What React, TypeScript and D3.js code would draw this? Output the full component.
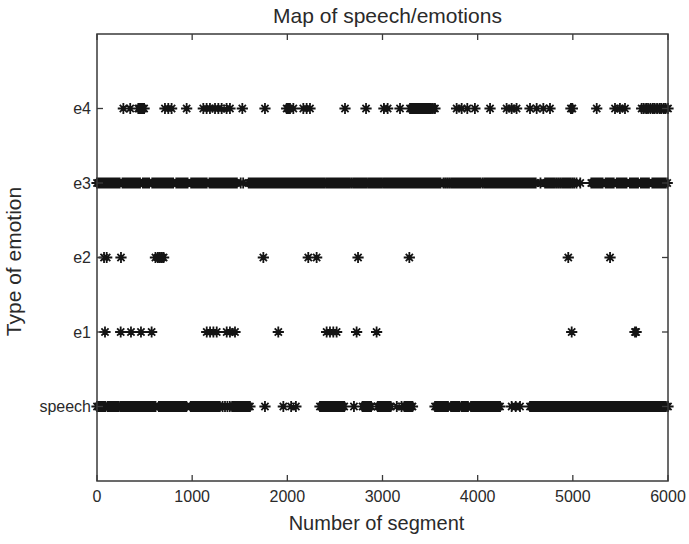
import React from "react";
import * as d3 from "d3";

const categories = ["speech", "e1", "e2", "e3", "e4"];
const xTicks = [0, 1000, 2000, 3000, 4000, 5000, 6000];

const speechSeg = [
  0, 17, 34, 51, 68, 85, 110, 127, 144, 161, 178, 195, 212, 224,
  245, 262, 279, 296, 313, 330, 347, 364, 381, 398, 415, 432, 449, 466, 483,
  500, 517, 534, 551, 568, 585, 602, 615,
  650, 667, 684, 701, 718, 735, 752, 769, 786, 803, 820, 837, 854, 871, 888,
  905, 922, 939,
  985, 1002, 1019, 1036, 1053, 1070, 1087, 1104, 1121, 1138, 1155, 1172,
  1189, 1206, 1223, 1240, 1257, 1274, 1291,
  1320, 1345, 1370, 1395,
  1420, 1437, 1454, 1471, 1488, 1505, 1522, 1539, 1556, 1573, 1590, 1607,
  1765, 1958, 2040, 2090,
  2343, 2360, 2377, 2394, 2411, 2428, 2445, 2462, 2479, 2496, 2513, 2530,
  2547, 2564, 2581, 2598,
  2700, 2790, 2808, 2826, 2844, 2862, 2880,
  2950, 2967, 2984, 3001, 3018, 3035, 3052, 3069, 3086,
  3150, 3200, 3230, 3247, 3264, 3281, 3298, 3315,
  3552, 3569, 3586, 3603, 3620, 3637, 3654, 3671, 3688, 3720, 3737, 3754,
  3771, 3788, 3805, 3830, 3847, 3864, 3881, 3898, 3930, 3947, 3964, 3981,
  3998, 4015, 4032, 4049, 4066, 4083, 4100, 4117, 4134, 4151, 4168, 4185,
  4202, 4219, 4235,
  4357, 4400, 4445,
  4550, 4567, 4584, 4601, 4618, 4635, 4652, 4669, 4686, 4703, 4720, 4737,
  4754, 4771, 4788, 4805, 4822, 4839, 4856, 4873, 4890, 4907, 4924, 4941,
  4958, 4975, 4992, 5009, 5026, 5043, 5060, 5077, 5094, 5111, 5128, 5145,
  5162, 5179, 5196, 5213, 5230, 5247, 5264, 5281, 5298, 5315, 5332, 5349,
  5366, 5383, 5400, 5417, 5434, 5451, 5468, 5485, 5502, 5519, 5536, 5553,
  5570, 5587, 5604, 5621, 5638, 5655, 5672, 5689, 5706, 5723, 5740, 5757,
  5774, 5791, 5808, 5825, 5842, 5859, 5876, 5893, 5910, 5927, 5944, 5961,
  5978, 6000,
];

const e1Seg = [
  84, 249, 357, 462, 574, 1153, 1188, 1223, 1258, 1363, 1397, 1450, 1905,
  2413, 2448, 2483, 2518, 2728, 2938, 4988, 5653, 5665,
];

const e2Seg = [
  74, 102, 252, 614, 640, 660, 680, 700, 1748, 2220, 2308, 2743, 3282,
  4952, 5391,
];

const e3Seg = [
  0, 15, 33, 50, 68, 84, 101, 119, 136, 152, 170, 187, 204, 221, 238,
  268, 285, 302, 318, 336, 353, 370, 387, 404, 421, 438, 452,
  482, 499, 516, 533, 548,
  580, 597, 614, 631, 648, 665, 682, 699, 716, 733, 750, 767, 784, 800,
  833, 850, 867, 884, 901, 918, 935, 952,
  989, 1006, 1023, 1040, 1057, 1074, 1091, 1108, 1125, 1142, 1153,
  1182, 1199, 1216, 1233, 1250, 1267, 1284, 1301, 1318, 1335, 1352, 1369,
  1386, 1403, 1420, 1437, 1454, 1470,
  1510, 1536,
  1594, 1611, 1628, 1645, 1662, 1679, 1696, 1713, 1730, 1747, 1764, 1781,
  1798, 1815, 1832, 1849, 1866, 1883, 1900, 1917, 1934, 1951, 1968, 1985,
  2002, 2019, 2036, 2053, 2070, 2087, 2104, 2121, 2138, 2155, 2172, 2189,
  2206, 2223, 2240, 2257, 2274, 2291, 2308, 2325, 2342, 2359, 2376, 2392,
  2412,
  2431, 2448, 2465, 2482, 2499, 2516, 2533, 2550, 2567, 2584, 2601, 2618,
  2635, 2652, 2672, 2692, 2709, 2726, 2743, 2760, 2777, 2794, 2811, 2828,
  2848, 2865, 2882, 2899, 2916, 2933, 2950, 2967, 2980, 2995,
  3015, 3032, 3049, 3066, 3083, 3100, 3117, 3134, 3151, 3168, 3185, 3202,
  3219, 3236, 3253, 3270, 3287, 3304, 3321, 3338, 3355, 3372, 3389, 3406,
  3423, 3440, 3457, 3474, 3491, 3508, 3525, 3542, 3559, 3576, 3593, 3610,
  3640, 3660, 3680, 3700,
  3720, 3737, 3754, 3771, 3788, 3805, 3822, 3839, 3856, 3873, 3890, 3907,
  3924, 3941, 3958, 3975, 3992, 4009, 4027,
  4050,
  4070, 4087, 4104, 4121, 4138, 4155, 4172, 4189, 4206, 4223, 4240, 4257,
  4274, 4291, 4308, 4325, 4342, 4359, 4376, 4393, 4410, 4427, 4444, 4461,
  4478, 4495, 4512, 4529, 4546, 4563, 4580, 4597, 4610,
  4660,
  4708, 4725, 4742, 4759, 4776, 4793, 4810, 4830, 4850, 4870, 4890, 4907,
  4924, 4941, 4958, 4975, 4995, 5015, 5039,
  5078,
  5194, 5211, 5228, 5245, 5262, 5279, 5296, 5313, 5345, 5362, 5379, 5396,
  5413, 5430, 5462, 5479, 5496, 5513, 5530, 5547, 5564, 5600, 5617, 5634,
  5651, 5668, 5685, 5715, 5732, 5749, 5766, 5783, 5800, 5835, 5852, 5869,
  5886, 5903, 5920, 5937, 5954, 5971, 5992,
];

const e4Seg = [
  277, 349, 434, 450, 465, 480, 495, 714, 749, 784, 942, 1117, 1152, 1187,
  1240, 1275, 1310, 1362, 1397, 1527, 1765, 1993, 2010, 2028, 2063, 2168,
  2203, 2238, 2606, 2827, 3015, 3054, 3184,
  3289, 3306, 3323, 3340, 3357, 3374, 3391, 3408, 3425, 3442, 3459, 3476,
  3493, 3510, 3530, 3551,
  3779, 3832, 3891, 3971, 4130, 4304, 4357, 4409, 4550, 4620, 4690, 4760,
  4980, 4995, 5251, 5443, 5495, 5548,
  5723, 5745, 5770, 5790, 5815, 5840, 5860, 5885, 5910, 5930, 5955, 5975,
  6000,
];

const seriesList = [speechSeg, e1Seg, e2Seg, e3Seg, e4Seg];

const W = 689;
const H = 544;
const L = 97;
const R = 668;
const T = 34;
const B = 481;
const FONT = "'Liberation Sans', Arial, Helvetica, sans-serif";
const AX = "#3a3a3a";
const TXT = "#2a2a2a";

export default function App() {
  const x = d3.scaleLinear().domain([0, 6000]).range([L, R]);
  const y = d3.scaleLinear().domain([0, 6]).range([B, T]);

  const star = (cx: number, cy: number) => {
    const a = 5.6;
    const b = 3.6;
    return `M${cx - a},${cy}H${cx + a}M${cx},${cy - a}V${cy + a}M${cx - b},${cy - b}L${cx + b},${cy + b}M${cx - b},${cy + b}L${cx + b},${cy - b}`;
  };

  return (
    <svg
      width={W}
      height={H}
      style={{ position: "absolute", left: 0, top: 0, background: "#fff" }}
    >
      <rect x={0} y={0} width={W} height={H} fill="#fff" />
      {seriesList.map((arr, i) => (
        <path
          key={categories[i]}
          d={arr.map((v) => star(x(v), y(i + 1))).join("")}
          stroke="#141414"
          strokeWidth={1.8}
          fill="none"
        />
      ))}
      <rect
        x={L}
        y={T}
        width={R - L}
        height={B - T}
        fill="none"
        stroke={AX}
        strokeWidth={1.5}
      />
      {xTicks.map((t) => (
        <g key={t}>
          <line x1={x(t)} x2={x(t)} y1={B} y2={B - 6} stroke={AX} strokeWidth={1.3} />
          <line x1={x(t)} x2={x(t)} y1={T} y2={T + 6} stroke={AX} strokeWidth={1.3} />
          <text
            x={x(t)}
            y={B + 21}
            textAnchor="middle"
            fontFamily={FONT}
            fontSize={16}
            fill={TXT}
          >
            {t}
          </text>
        </g>
      ))}
      {categories.map((c, i) => (
        <g key={c}>
          <line x1={L} x2={L + 6} y1={y(i + 1)} y2={y(i + 1)} stroke={AX} strokeWidth={1.3} />
          <line x1={R} x2={R - 6} y1={y(i + 1)} y2={y(i + 1)} stroke={AX} strokeWidth={1.3} />
          <text
            x={L - 6}
            y={y(i + 1) + 5.5}
            textAnchor="end"
            fontFamily={FONT}
            fontSize={16}
            fill={TXT}
          >
            {c}
          </text>
        </g>
      ))}
      <text
        x={(L + R) / 2 + 5}
        y={23}
        textAnchor="middle"
        fontFamily={FONT}
        fontSize={21}
        fill={TXT}
      >
        Map of speech/emotions
      </text>
      <text
        x={(L + R) / 2 - 6}
        y={530}
        textAnchor="middle"
        fontFamily={FONT}
        fontSize={20}
        fill={TXT}
      >
        Number of segment
      </text>
      <text
        transform={`translate(21, ${(T + B) / 2 + 4}) rotate(-90)`}
        textAnchor="middle"
        fontFamily={FONT}
        fontSize={21}
        fill={TXT}
      >
        Type of emotion
      </text>
    </svg>
  );
}
